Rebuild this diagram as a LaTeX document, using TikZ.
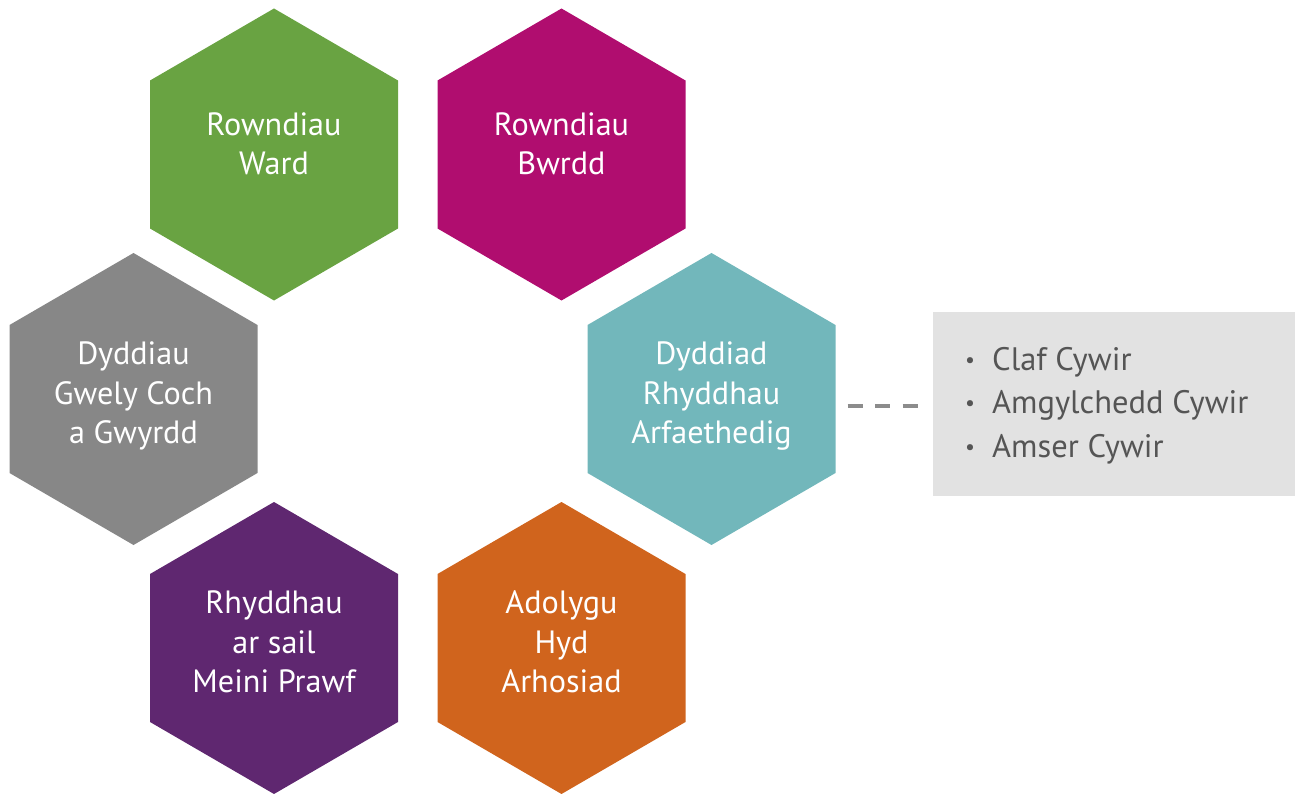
\documentclass[tikz,border=0pt]{standalone}
\usepackage{fontspec}
\setmainfont{PT Sans}
\usetikzlibrary{calc}

\definecolor{hexgreen}{HTML}{69A342}
\definecolor{hexmagenta}{HTML}{B00D6F}
\definecolor{hexgrey}{HTML}{878787}
\definecolor{hexteal}{HTML}{72B7BB}
\definecolor{hexpurple}{HTML}{5F2770}
\definecolor{hexorange}{HTML}{D0641D}
\definecolor{boxfill}{HTML}{E2E2E2}
\definecolor{listtext}{HTML}{555555}
\definecolor{dashgrey}{HTML}{8C8C8C}

\tikzset{
  % pointy-topped hexagon filling a 248 x 292 frame
  hex/.style={
    minimum width=248, minimum height=292, inner sep=0, outer sep=0,
    path picture={
      \fill[#1]
        (path picture bounding box.north)
        -- ($(path picture bounding box.north east)!0.2466!(path picture bounding box.south east)$)
        -- ($(path picture bounding box.north east)!0.7534!(path picture bounding box.south east)$)
        -- (path picture bounding box.south)
        -- ($(path picture bounding box.north west)!0.7534!(path picture bounding box.south west)$)
        -- ($(path picture bounding box.north west)!0.2466!(path picture bounding box.south west)$)
        -- cycle;
    }
  },
  hexlabel/.style={
    text=white, align=center, inner sep=0,
    font=\fontsize{32.2}{39.6}\selectfont
  },
  listbox/.style={fill=boxfill, minimum width=362.3, minimum height=184, inner sep=0},
  listlabel/.style={text=listtext, align=left, inner sep=0, anchor=west,
    font=\fontsize{32.5}{43.5}\selectfont},
  link/.style={dashgrey, line width=4, dash pattern=on 15 off 12.5}
}

\newcommand{\hexbullet}{\makebox[27pt][l]{\raisebox{3pt}{\fontsize{22}{22}\selectfont •}}}

\begin{document}
\begin{tikzpicture}[x=1pt, y=-1pt]
  \useasboundingbox (0,0) rectangle (1295,794);

  % hexagon ring
  \node[hex=hexgreen]   (ward)     at (274,154.5) {};
  \node[hex=hexmagenta] (bwrdd)    at (561.5,154.5) {};
  \node[hex=hexgrey]    (dyddiau)  at (133.5,399) {};
  \node[hex=hexteal]    (rhyddhau) at (711.5,399) {};
  \node[hex=hexpurple]  (meini)    at (274,648) {};
  \node[hex=hexorange]  (adolygu)  at (561.5,648) {};

  % labels
  \node[hexlabel] (wardT)     at ([yshift=7.6]ward.center)     {\strut Rowndiau\\\strut Ward};
  \node[hexlabel] (bwrddT)    at ([yshift=7.6]bwrdd.center)    {\strut Rowndiau\\\strut Bwrdd};
  \node[hexlabel] (dyddiauT)  at ([yshift=2.9]dyddiau.center)  {\strut Dyddiau\\\strut Gwely Coch\\\strut a Gwyrdd};
  \node[hexlabel] (rhyddhauT) at ([yshift=2.9]rhyddhau.center) {\strut Dyddiad\\\strut Rhyddhau\\\strut Arfaethedig};
  \node[hexlabel] (meiniT)    at ([yshift=2.9]meini.center)    {\strut Rhyddhau\\\strut ar sail\\\strut Meini Prawf};
  \node[hexlabel] (adolyguT)  at ([yshift=2.9]adolygu.center)  {\strut Adolygu\\\strut Hyd\\\strut Arhosiad};

  % side panel with the three criteria
  \node[listbox] (panel) at (1114.15,404) {};
  \node[listlabel] (criteria) at (965,405) {%
    \strut\hexbullet Claf Cywir\\
    \strut\hexbullet Amgylchedd Cywir\\
    \strut\hexbullet Amser Cywir};

  % dashed link from the discharge-date hexagon to the panel
  \draw[link] ([xshift=12]rhyddhau.east |- 0,406) -- ([xshift=-15]panel.west |- 0,406);
\end{tikzpicture}
\end{document}
